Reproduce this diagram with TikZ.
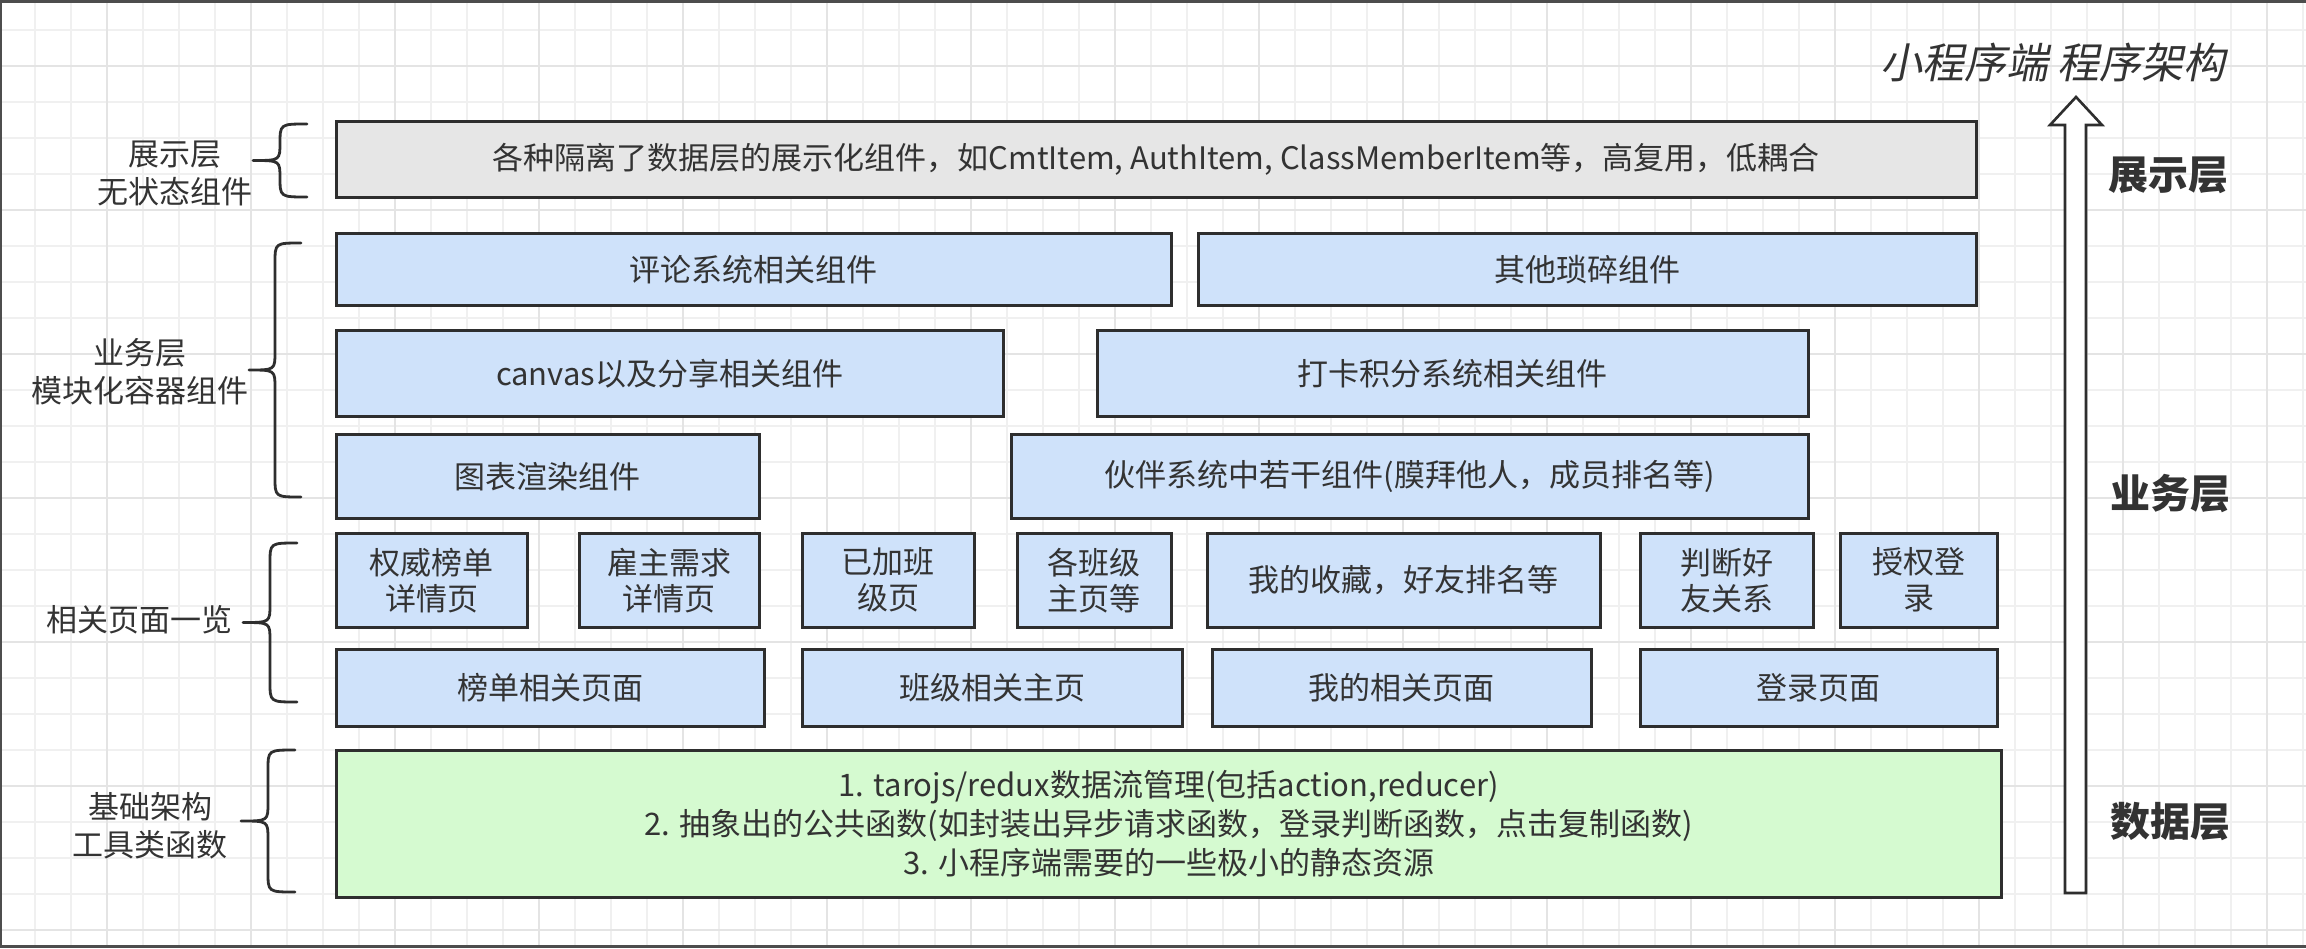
\documentclass[tikz,border=0pt]{standalone}
\usepackage{fontspec}
\setmainfont{Noto Sans CJK SC}
\newfontfamily\titlefont[FakeSlant=0.2]{Noto Sans CJK SC}
\definecolor{txt}{HTML}{333333}
\definecolor{edgecol}{HTML}{2E2E2E}
\definecolor{grayfill}{HTML}{E6E6E6}
\definecolor{bluefill}{HTML}{CFE2FA}
\definecolor{greenfill}{HTML}{D5FAD0}
\definecolor{gridminor}{HTML}{F0F0F0}
\definecolor{gridmajor}{HTML}{E4E4E4}
\definecolor{framecol}{HTML}{4D4D4D}

\newcommand\mkbox[7]{%
  \pgfmathsetmacro\bw{#4-#2}\pgfmathsetmacro\bh{#5-#3}%
  \node[boxstyle, fill=#6, minimum width=\bw pt, minimum height=\bh pt, anchor=north west] (#1) at (#2+1.6,#3+1.6) {#7};}
\newcommand\mkbrace[4]{%
  \pgfmathsetmacro\bv{(#1+#2)/2}\pgfmathsetmacro\bm{(#3+#4)/2}%
  \draw[bracestyle] (#1,#3) .. controls (\bv,#3) .. (\bv,#3+20) -- (\bv,\bm-18)
     .. controls (\bv,\bm) .. (#2,\bm) .. controls (\bv,\bm) .. (\bv,\bm+18)
     -- (\bv,#4-20) .. controls (\bv,#4) .. (#1,#4);}

\begin{document}
\begin{tikzpicture}[x=1pt,y=-1pt,
  boxstyle/.style={draw=edgecol, line width=3.2pt, text=txt, align=center,
    inner sep=0pt, font=\fontsize{31}{36}\selectfont},
  lab/.style={text=txt, align=center, inner sep=0pt, font=\fontsize{31}{38}\selectfont},
  biglab/.style={text=txt, inner sep=0pt, font=\fontsize{40}{44}\selectfont\bfseries},
  titlestyle/.style={text=txt, inner sep=0pt, font=\fontsize{42}{46}\selectfont\titlefont},
  bracestyle/.style={draw=edgecol, line width=2.8pt, line cap=round, line join=round},
  arrowstyle/.style={draw=edgecol, fill=white, line width=2.6pt, line join=miter}]

\useasboundingbox (0,0) rectangle (2306,948);
\fill[framecol] (0,0) rectangle (2306,948);
\fill[white] (2,3) rectangle (2306,945);

% grid
\foreach \i in {0,...,63}{\pgfmathsetmacro\gx{35+36*\i}\draw[gridminor, line width=1.6pt] (\gx,3) -- (\gx,945);}
\foreach \j in {0,...,25}{\pgfmathsetmacro\gy{30+36*\j}\draw[gridminor, line width=1.6pt] (2,\gy) -- (2306,\gy);}
\foreach \i in {0,...,15}{\pgfmathsetmacro\gx{107+144*\i}\draw[gridmajor, line width=1.6pt] (\gx,3) -- (\gx,945);}
\foreach \j in {0,...,6}{\pgfmathsetmacro\gy{66+144*\j}\draw[gridmajor, line width=1.6pt] (2,\gy) -- (2306,\gy);}

% title
\node[titlestyle] (title) at (2053,62) {小程序端 程序架构};

% arrow
\draw[arrowstyle] (2065,893) -- (2065,125) -- (2050,125) -- (2076,97) -- (2102,125) -- (2086,125) -- (2086,893) -- cycle;

% right labels
\node[biglab] (r1) at (2168,175) {展示层};
\node[biglab] (r2) at (2170,494) {业务层};
\node[biglab] (r3) at (2170,822) {数据层};

% boxes
\mkbox{pres}{333}{118}{1973}{194}{grayfill}{各种隔离了数据层的展示化组件，如CmtItem, AuthItem, ClassMemberItem等，高复用，低耦合}
\mkbox{b11}{333}{230}{1168}{302}{bluefill}{评论系统相关组件}
\mkbox{b12}{1195}{230}{1973}{302}{bluefill}{其他琐碎组件}
\mkbox{b21}{333}{327}{1000}{413}{bluefill}{canvas以及分享相关组件}
\mkbox{b22}{1094}{327}{1805}{413}{bluefill}{打卡积分系统相关组件}
\mkbox{b31}{333}{431}{756}{515}{bluefill}{图表渲染组件}
\mkbox{b32}{1008}{431}{1805}{515}{bluefill}{伙伴系统中若干组件(膜拜他人，成员排名等)}
\mkbox{p1}{333}{530}{524}{624}{bluefill}{权威榜单\\详情页}
\mkbox{p2}{576}{530}{756}{624}{bluefill}{雇主需求\\详情页}
\mkbox{p3}{799}{530}{971}{624}{bluefill}{已加班\\级页}
\mkbox{p4}{1014}{530}{1168}{624}{bluefill}{各班级\\主页等}
\mkbox{p5}{1204}{530}{1597}{624}{bluefill}{我的收藏，好友排名等}
\mkbox{p6}{1637}{530}{1810}{624}{bluefill}{判断好\\友关系}
\mkbox{p7}{1837}{530}{1994}{624}{bluefill}{授权登\\录}
\mkbox{q1}{333}{646}{761}{723}{bluefill}{榜单相关页面}
\mkbox{q2}{799}{646}{1179}{723}{bluefill}{班级相关主页}
\mkbox{q3}{1209}{646}{1588}{723}{bluefill}{我的相关页面}
\mkbox{q4}{1637}{646}{1994}{723}{bluefill}{登录页面}
\mkbox{data}{333}{747}{1998}{894}{greenfill}{1. tarojs/redux数据流管理(包括action,reducer)\\[3pt]2. 抽象出的公共函数(如封装出异步请求函数，登录判断函数，点击复制函数)\\[3pt]3. 小程序端需要的一些极小的静态资源}

% left labels
\node[lab] (l1) at (175,173) {展示层\\无状态组件};
\node[lab] (l2) at (140,372) {业务层\\模块化容器组件};
\node[lab] (l3) at (139,620) {相关页面一览};
\node[lab] (l4) at (150,826) {基础架构\\工具类函数};

% braces
\mkbrace{307}{253}{124}{197}
\mkbrace{301}{249}{243}{497}
\mkbrace{297}{243}{543}{702}
\mkbrace{295}{241}{750}{892}
\end{tikzpicture}
\end{document}
